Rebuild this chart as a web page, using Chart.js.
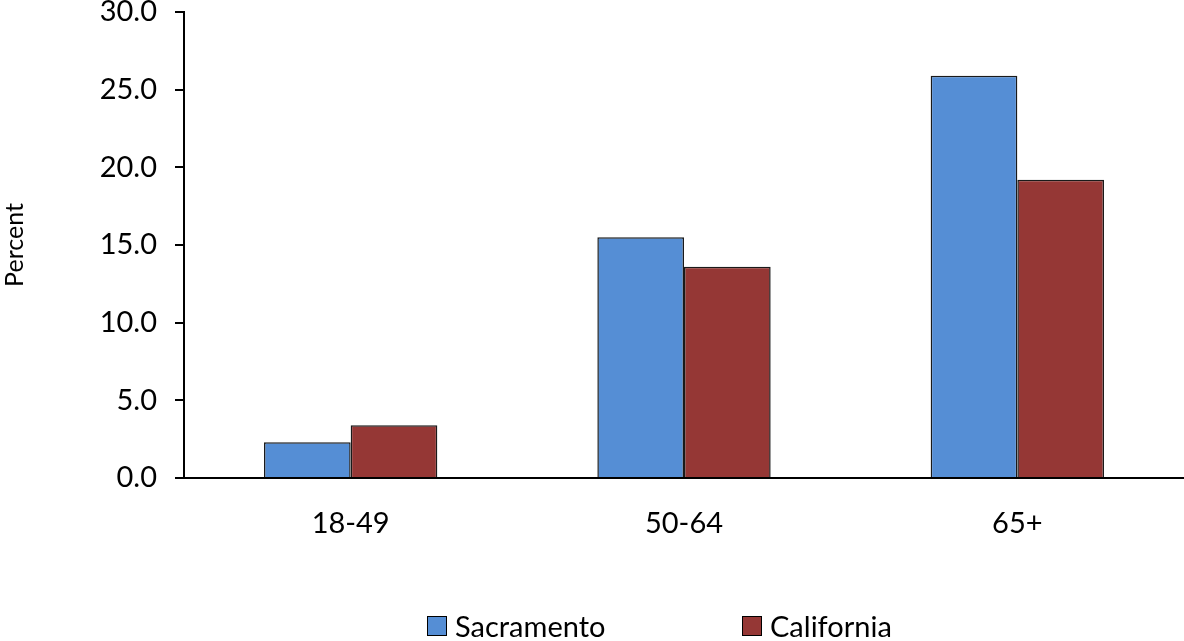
<!DOCTYPE html>
<html>
<head>
<meta charset="utf-8">
<script src="https://cdn.jsdelivr.net/npm/chart.js@4"></script>
<style>
  html, body { margin: 0; padding: 0; background: #fff; }
  #wrap { position: relative; width: 1184px; height: 641px; }
  #legend { position: absolute; left: 427px; top: 608px; display: flex; font-family: Lato, sans-serif; font-size: 29px; color: #000; }
  .item { display: flex; align-items: center; width: 315px; }
  .box { width: 18px; height: 18px; border: 1px solid #000; margin-right: 8px; }
</style>
</head>
<body>
<div id="wrap">
  <canvas id="myChart" width="1184" height="641"></canvas>
  <div id="legend"></div>
</div>
<script>
var ageGroups = ["18-49", "50-64", "65+"];
var sacramento = [2.3, 15.5, 25.9];
var california = [3.4, 13.6, 19.2];
var seriesNames = ["Sacramento", "California"];
var barColors = ["#558ED5", "#953735"];

var chart = new Chart("myChart", {
  type: "bar",
  data: {
    labels: ageGroups,
    datasets: [{
      label: seriesNames[0],
      data: sacramento,
      backgroundColor: barColors[0],
      borderColor: "#1a1a1a",
      borderWidth: 1.5,
      categoryPercentage: 0.52,
      barPercentage: 1
    }, {
      label: seriesNames[1],
      data: california,
      backgroundColor: barColors[1],
      borderColor: "#1a1a1a",
      borderWidth: 1.5,
      categoryPercentage: 0.52,
      barPercentage: 1
    }]
  },
  options: {
    responsive: false,
    animation: false,
    layout: { padding: { top: 12, right: 0, left: 0, bottom: 0 } },
    plugins: {
      legend: { display: false },
      tooltip: { enabled: false }
    },
    scales: {
      x: {
        grid: { display: false },
        border: { color: "#000", width: 2 },
        ticks: { color: "#000", padding: 20, font: { family: "Lato", size: 29 } },
        afterFit: function(scale) {
          scale.height = 641 - 478;
          scale.paddingLeft = 0;
          scale.paddingRight = 0;
        }
      },
      y: {
        min: 0,
        max: 30,
        ticks: {
          stepSize: 5,
          color: "#000",
          padding: 18,
          font: { family: "Lato", size: 29 },
          callback: function(v) { return v.toFixed(1); }
        },
        grid: { drawOnChartArea: false, color: "#000", tickLength: 9, lineWidth: 2 },
        border: { color: "#000", width: 2 },
        title: {
          display: true,
          text: "Percent",
          color: "#000",
          font: { family: "Lato", size: 25 },
          padding: { top: 0, bottom: 0 }
        },
        afterFit: function(scale) {
          scale.width = 184;
          scale.paddingTop = 0;
          scale.paddingBottom = 0;
        }
      }
    }
  }
});

// legend built from the chart's datasets
var legendEl = document.getElementById("legend");
chart.data.datasets.forEach(function(ds) {
  var item = document.createElement("div");
  item.className = "item";
  var box = document.createElement("span");
  box.className = "box";
  box.style.background = ds.backgroundColor;
  var txt = document.createElement("span");
  txt.textContent = ds.label;
  item.appendChild(box);
  item.appendChild(txt);
  legendEl.appendChild(item);
});
</script>
</body>
</html>
